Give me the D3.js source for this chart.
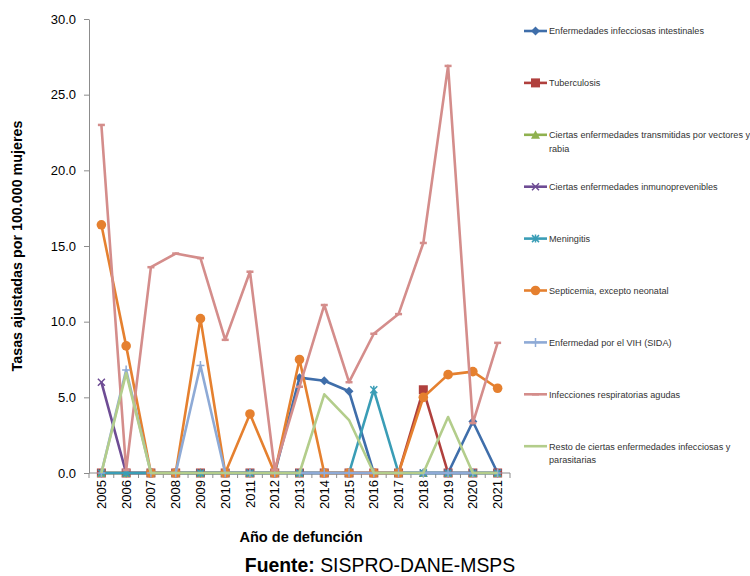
<!DOCTYPE html>
<html>
<head>
<meta charset="utf-8">
<script src="https://cdn.jsdelivr.net/npm/d3@7/dist/d3.min.js"></script>
<style>
  html, body { margin: 0; padding: 0; background: #fff; }
  svg { display: block; font-family: "Liberation Sans", Arial, sans-serif; }
</style>
</head>
<body>
<svg id="chart" width="750" height="576"></svg>
<script>
// Años de defunción
const years = ["2005","2006","2007","2008","2009","2010","2011","2012","2013",
               "2014","2015","2016","2017","2018","2019","2020","2021"];

// Tasas ajustadas por 100.000 mujeres, por grupo de causa
const intestinales   = [0,0,0,0,0,0,0,0,6.3,6.1,5.4,0,0,0,0,3.4,0];
const tuberculosis   = [0,0,0,0,0,0,0,0,0,0,0,0,0,5.5,0,0,0];
const vectores       = [0,0,0,0,0,0,0,0,0,0,0,0,0,0,0,0,0];
const inmunoprev     = [6.0,0,0,0,0,0,0,0,0,0,0,0,0,0,0,0,0];
const meningitis     = [0,0,0,0,0,0,0,0,0,0,0,5.5,0,0,0,0,0];
const septicemia     = [16.4,8.4,0,0,10.2,0,3.9,0,7.5,0,0,0,0,5.0,6.5,6.7,5.6];
const vih            = [0,6.8,0,0,7.1,0,0,0,0,0,0,0,0,0,0,0,0];
const respiratorias  = [23.0,0.2,13.6,14.5,14.2,8.8,13.3,0.2,5.7,11.1,6.0,9.2,10.5,15.2,26.9,3.3,8.6];
const restoInfec     = [0,6.6,0,0,0,0,0,0,0,5.2,3.5,0,0,0,3.7,0,0];

const yTicks = [0, 5, 10, 15, 20, 25, 30];

const series = [
  { name: ["Enfermedades infecciosas intestinales"], values: intestinales, color: "#3f6eaa", marker: "diamond" },
  { name: ["Tuberculosis"], values: tuberculosis, color: "#b0403d", marker: "square" },
  { name: ["Ciertas enfermedades transmitidas por vectores y", "rabia"], values: vectores, color: "#8fb14f", marker: "triangle" },
  { name: ["Ciertas enfermedades inmunoprevenibles"], values: inmunoprev, color: "#6e4c94", marker: "x" },
  { name: ["Meningitis"], values: meningitis, color: "#3a9db6", marker: "asterisk" },
  { name: ["Septicemia, excepto neonatal"], values: septicemia, color: "#e5802f", marker: "circle" },
  { name: ["Enfermedad por el VIH (SIDA)"], values: vih, color: "#8eaad6", marker: "plus" },
  { name: ["Infecciones respiratorias agudas"], values: respiratorias, color: "#d48d8b", marker: "dash" },
  { name: ["Resto de ciertas enfermedades infecciosas y", "parasitarias"], values: restoInfec, color: "#b3cd8b", marker: "none" }
];

const svg = d3.select("#chart");

const plot = { left: 89, right: 510, top: 19, bottom: 473 };

const x = d3.scaleBand().domain(years).range([plot.left, plot.right]);
const cx = d => x(d) + x.bandwidth() / 2;
const y = d3.scaleLinear().domain([0, 30]).range([plot.bottom, plot.top]);

// Eje Y
const yAxis = svg.append("g")
  .attr("transform", `translate(${plot.left},0)`)
  .call(d3.axisLeft(y).tickValues(yTicks).tickFormat(d3.format(".1f")).tickSize(5).tickSizeOuter(0).tickPadding(8));
yAxis.selectAll("path, line").attr("stroke", "#8c8c8c");
yAxis.selectAll("text").attr("font-size", 13).attr("fill", "#000")
  .attr("font-family", "'Liberation Sans', Arial, sans-serif");

// Eje X: línea base y marcas entre categorías
const xAxis = svg.append("g").attr("transform", `translate(0,${plot.bottom})`);
xAxis.append("line")
  .attr("x1", plot.left).attr("x2", plot.right)
  .attr("stroke", "#8c8c8c");
const boundaries = d3.range(years.length + 1).map(i => plot.left + i * x.step());
xAxis.selectAll("line.tick").data(boundaries).join("line")
  .attr("class", "tick")
  .attr("x1", d => d).attr("x2", d => d)
  .attr("y1", 0).attr("y2", 5)
  .attr("stroke", "#8c8c8c");
xAxis.selectAll("text").data(years).join("text")
  .attr("transform", d => `translate(${cx(d)},7) rotate(-90)`)
  .attr("text-anchor", "end")
  .attr("dy", "0.35em")
  .attr("font-size", 13)
  .text(d => d);

// Marcadores
function drawMarker(g, type, color, px, py) {
  switch (type) {
    case "diamond":
      g.append("path").attr("d", `M${px},${py-4.5}L${px+4.5},${py}L${px},${py+4.5}L${px-4.5},${py}Z`).attr("fill", color);
      break;
    case "square":
      g.append("rect").attr("x", px-4.5).attr("y", py-4.5).attr("width", 9).attr("height", 9).attr("fill", color);
      break;
    case "triangle":
      g.append("path").attr("d", `M${px},${py-4.5}L${px+4.5},${py+4}L${px-4.5},${py+4}Z`).attr("fill", color);
      break;
    case "x":
      g.append("path").attr("d", `M${px-3.5},${py-3.5}L${px+3.5},${py+3.5}M${px-3.5},${py+3.5}L${px+3.5},${py-3.5}`)
        .attr("stroke", color).attr("stroke-width", 1.5).attr("fill", "none");
      break;
    case "asterisk":
      g.append("path").attr("d", `M${px-3.5},${py-3.5}L${px+3.5},${py+3.5}M${px-3.5},${py+3.5}L${px+3.5},${py-3.5}M${px},${py-4}L${px},${py+4}`)
        .attr("stroke", color).attr("stroke-width", 1.5).attr("fill", "none");
      break;
    case "circle":
      g.append("circle").attr("cx", px).attr("cy", py).attr("r", 4.8).attr("fill", color);
      break;
    case "plus":
      g.append("path").attr("d", `M${px-4},${py}L${px+4},${py}M${px},${py-4.5}L${px},${py+4.5}`)
        .attr("stroke", color).attr("stroke-width", 1.5).attr("fill", "none");
      break;
    case "dash":
      g.append("path").attr("d", `M${px-3.5},${py}L${px+3.5},${py}`)
        .attr("stroke", color).attr("stroke-width", 2.5).attr("fill", "none");
      break;
  }
}

// Series
const line = d3.line().x((d, i) => cx(years[i])).y(d => y(d));
series.forEach(s => {
  const g = svg.append("g");
  g.append("path")
    .datum(s.values)
    .attr("d", line)
    .attr("fill", "none")
    .attr("stroke", s.color)
    .attr("stroke-width", 2.6)
    .attr("stroke-linejoin", "round");
  s.values.forEach((v, i) => drawMarker(g, s.marker, s.color, cx(years[i]), y(v)));
});

// Leyenda
const legend = svg.append("g");
series.forEach((s, i) => {
  const ly = 31 + i * 51.9;
  const g = legend.append("g");
  g.append("line").attr("x1", 524).attr("x2", 547).attr("y1", ly).attr("y2", ly)
    .attr("stroke", s.color).attr("stroke-width", 2.6);
  drawMarker(g, s.marker, s.color, 535.5, ly);
  s.name.forEach((t, j) => {
    g.append("text")
      .attr("transform", `translate(549,${ly + j * 13.5}) scale(0.94,1)`)
      .attr("dy", "0.35em")
      .attr("font-size", 9.7)
      .attr("fill", "#333")
      .text(t);
  });
});

// Títulos de los ejes
svg.append("text")
  .attr("transform", "translate(22,246) rotate(-90)")
  .attr("text-anchor", "middle")
  .attr("font-size", 14.3)
  .attr("font-weight", "bold")
  .text("Tasas ajustadas por 100.000 mujeres");

svg.append("text")
  .attr("x", 301).attr("y", 542)
  .attr("text-anchor", "middle")
  .attr("font-size", 14.6)
  .attr("font-weight", "bold")
  .text("Año de defunción");

const src = svg.append("text")
  .attr("x", 380).attr("y", 572)
  .attr("text-anchor", "middle")
  .attr("font-size", 19.4);
src.append("tspan").attr("font-weight", "bold").text("Fuente: ");
src.append("tspan").text("SISPRO-DANE-MSPS");
</script>
</body>
</html>
